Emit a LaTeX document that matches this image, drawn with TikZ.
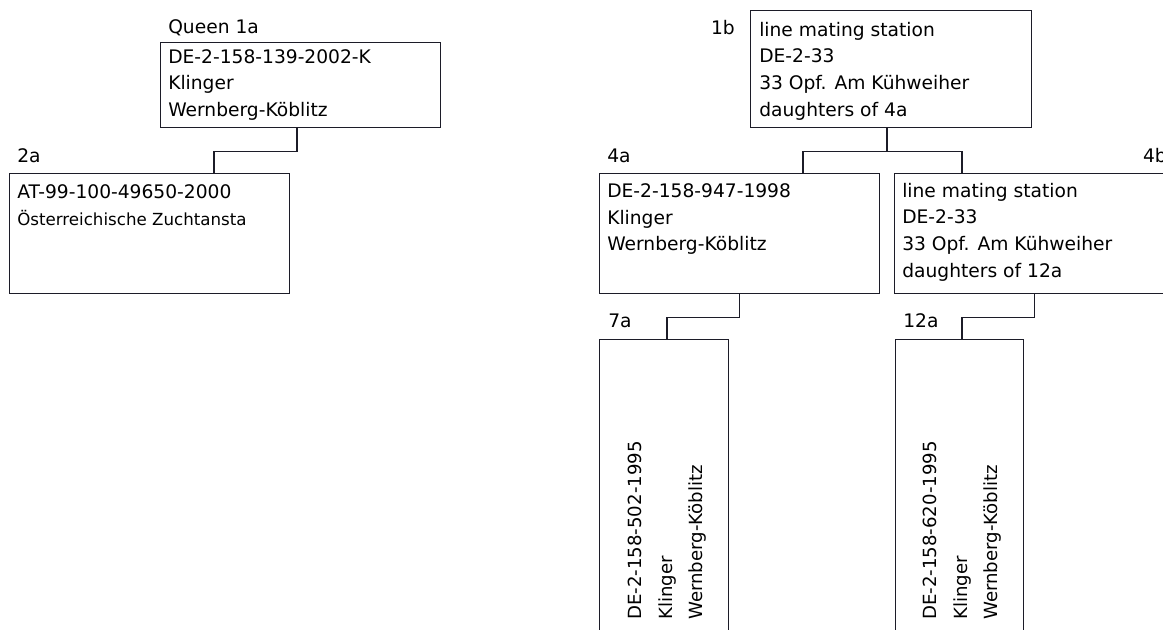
\documentclass[tikz,border=0pt]{standalone}
\usepackage{fontspec}
\setmainfont{DejaVu Sans}
\usepackage{tikz}
\usetikzlibrary{positioning,calc}
\definecolor{cardline}{RGB}{28,28,40}
\tikzset{
  card/.style={draw=cardline,line width=1pt,anchor=north west,inner sep=0pt,
    minimum width=210pt,minimum height=90pt},
  tallcard/.style={card,minimum width=96.75pt,minimum height=225pt},
  cardtext/.style={anchor=north west,inner sep=0pt,align=left,
    font=\fontsize{14}{19.9}\selectfont},
  sidetext/.style={cardtext,rotate=90,font=\fontsize{13.6}{22.9}\selectfont},
  tag/.style={anchor=base west,inner sep=0pt,font=\fontsize{14}{17}\selectfont},
  link/.style={draw=cardline,line width=1pt}
}
\begin{document}
\begin{tikzpicture}[x=0.75pt,y=-0.75pt]
\clip (0,0) rectangle (1163,630);
\fill[white] (0,0) rectangle (1163,630);
% left tree
\node[card,minimum height=63.75pt] (b1a) at (160,42) {};
\node[card] (b2a) at (9,173) {};
\node[cardtext] (t1a) at ($(b1a.north west)+(8,7)$) {DE-2-158-139-2002-K\\Klinger\\Wernberg-Köblitz};
\node[cardtext] (t2a) at ($(b2a.north west)+(8,11.5)$) {AT-99-100-49650-2000\\{\fontsize{12.5}{19.9}\selectfont Österreichische Zuchtansta}};
\node[tag] (l1a) at (168,34) {Queen 1a};
\node[tag] (l2a) at (17,163) {2a};
\draw[link] ($(b1a.south west)+(137,0)$) -- ++(0,23) -| ($(b2a.north west)+(205,0)$);
% right tree
\node[card,minimum width=210.75pt,minimum height=87.75pt] (b1b) at (750,10) {};
\node[card] (b4a) at (599,173) {};
\node[card] (b4b) at (894,173) {};
\node[tallcard] (b7a) at (599,339) {};
\node[tallcard,minimum width=96pt] (b12a) at (895,339) {};
\node[cardtext] (t1b) at ($(b1b.north west)+(9,12)$) {line mating station\\DE-2-33\\33 Opf. Am Kühweiher\\daughters of 4a};
\node[cardtext] (t4a) at ($(b4a.north west)+(8,10.5)$) {DE-2-158-947-1998\\Klinger\\Wernberg-Köblitz};
\node[cardtext] (t4b) at ($(b4b.north west)+(8,10)$) {line mating station\\DE-2-33\\33 Opf. Am Kühweiher\\daughters of 12a};
\node[sidetext] (t7a) at (628,620) {DE-2-158-502-1995\\Klinger\\Wernberg-Köblitz};
\node[sidetext] (t12a) at (923,620) {DE-2-158-620-1995\\Klinger\\Wernberg-Köblitz};
\node[tag,anchor=base east] (l1b) at (735,35) {1b};
\node[tag] (l4a) at (607,163) {4a};
\node[tag,anchor=base east] (l4b) at (1167,163) {4b};
\node[tag] (l7a) at (608,328) {7a};
\node[tag] (l12a) at (903,328) {12a};
\draw[link] ($(b1b.south west)+(137,0)$) -- ++(0,23) coordinate (f1b);
\draw[link] ($(b4a.north west)+(204,0)$) |- (f1b) -| ($(b4b.north west)+(68,0)$);
\draw[link] (b4a.south) -- ++(0,23) -| ($(b7a.north west)+(68,0)$);
\draw[link] (b4b.south) -- ++(0,23) -| ($(b12a.north west)+(67,0)$);
\end{tikzpicture}
\end{document}
